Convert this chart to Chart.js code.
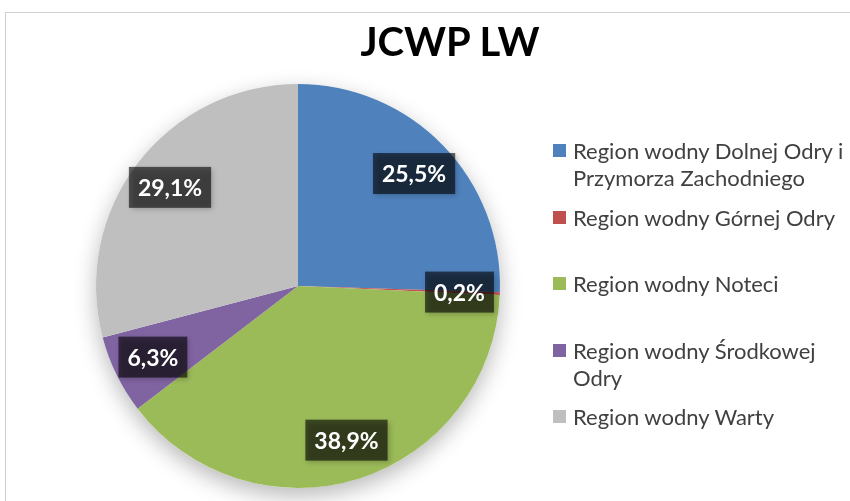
<!DOCTYPE html>
<html lang="pl">
<head>
<meta charset="UTF-8">
<title>JCWP LW</title>
<script src="https://cdn.jsdelivr.net/npm/chart.js"></script>
<style>
  html, body { margin: 0; padding: 0; background: #fff; overflow: hidden; }
  body { width: 850px; height: 501px; position: relative; font-family: Lato, "Liberation Sans", sans-serif; }
  .ramka { position: absolute; left: 5px; top: 12px; width: 900px; height: 600px;
           border-left: 1px solid #cfcfcf; border-top: 1px solid #cfcfcf; }
  #wykres { position: absolute; left: 0; top: 0; }
  .tytul { position: absolute; left: 0; width: 900px; top: 17px; text-align: center;
           font-weight: bold; font-size: 40px; line-height: 48px; color: #000; }
  .legenda { position: absolute; left: 553px; top: 0; }
  .poz { position: absolute; left: 0; width: 276px; padding-left: 20px;
         font-size: 22px; line-height: 27px; color: #404040; }
  .kw { position: absolute; left: 0; top: 7px; width: 13px; height: 13px; }
</style>
</head>
<body>
  <div class="ramka"></div>
  <canvas id="wykres" width="850" height="501"></canvas>
  <div class="tytul">JCWP LW</div>
  <div class="legenda" id="legenda"></div>

  <script>
    const regiony = [
      'Region wodny Dolnej Odry i Przymorza Zachodniego',
      'Region wodny Górnej Odry',
      'Region wodny Noteci',
      'Region wodny Środkowej Odry',
      'Region wodny Warty'
    ];
    const udzialy = [25.5, 0.2, 38.9, 6.3, 29.1];
    const kolory = ['#4F81BD', '#C0504D', '#9BBB59', '#8064A2', '#BFBFBF'];

    // pionowe polozenie wpisow legendy (jak w Excelu - nierowne odstepy)
    const legendaTop = [137, 204, 270, 337, 403];

    // cien pod calym kolem
    const cienKola = {
      id: 'cienKola',
      beforeDatasetsDraw(chart) {
        const arc = chart.getDatasetMeta(0).data[0];
        if (!arc) return;
        const ctx = chart.ctx;
        ctx.save();
        ctx.shadowColor = 'rgba(0,0,0,0.28)';
        ctx.shadowBlur = 22;
        ctx.shadowOffsetY = 8;
        ctx.fillStyle = '#fff';
        ctx.beginPath();
        ctx.arc(arc.x, arc.y, arc.outerRadius, 0, Math.PI * 2);
        ctx.fill();
        ctx.restore();
      }
    };

    // etykiety danych w ciemnych ramkach
    const etykiety = {
      id: 'etykiety',
      afterDatasetsDraw(chart) {
        const ctx = chart.ctx;
        const meta = chart.getDatasetMeta(0);
        ctx.save();
        ctx.font = 'bold 23px Lato, "Liberation Sans", sans-serif';
        ctx.textAlign = 'center';
        ctx.textBaseline = 'middle';
        meta.data.forEach((arc, i) => {
          const p = arc.getProps(['x', 'y', 'startAngle', 'endAngle', 'outerRadius'], true);
          const kat = (p.startAngle + p.endAngle) / 2;
          const r = p.outerRadius * 0.8;
          const x = p.x + Math.cos(kat) * r;
          const y = p.y + Math.sin(kat) * r;
          const tekst = udzialy[i].toFixed(1).replace('.', ',') + '%';
          const w = ctx.measureText(tekst).width + 18;
          const h = 41;
          ctx.save();
          ctx.shadowColor = 'rgba(0,0,0,0.35)';
          ctx.shadowBlur = 5;
          ctx.shadowOffsetX = 2;
          ctx.shadowOffsetY = 2;
          ctx.fillStyle = 'rgba(0,0,0,0.6)';
          ctx.fillRect(x - w / 2, y - h / 2, w, h);
          ctx.restore();
          ctx.fillStyle = '#fff';
          ctx.fillText(tekst, x, y + 1);
        });
        ctx.restore();
      }
    };

    new Chart(document.getElementById('wykres'), {
      type: 'pie',
      data: {
        labels: regiony,
        datasets: [{
          data: udzialy,
          backgroundColor: kolory,
          borderWidth: 0
        }]
      },
      options: {
        responsive: false,
        animation: false,
        layout: { padding: { left: 96, right: 350, top: 83, bottom: 12 } },
        plugins: {
          legend: { display: false },
          title: { display: false },
          tooltip: { enabled: false }
        }
      },
      plugins: [cienKola, etykiety]
    });

    // legenda w HTML (zawijanie dlugich nazw)
    const legenda = document.getElementById('legenda');
    regiony.forEach((nazwa, i) => {
      const poz = document.createElement('div');
      poz.className = 'poz';
      poz.style.top = legendaTop[i] + 'px';
      const kw = document.createElement('span');
      kw.className = 'kw';
      kw.style.background = kolory[i];
      poz.appendChild(kw);
      poz.appendChild(document.createTextNode(nazwa));
      legenda.appendChild(poz);
    });
  </script>
</body>
</html>
